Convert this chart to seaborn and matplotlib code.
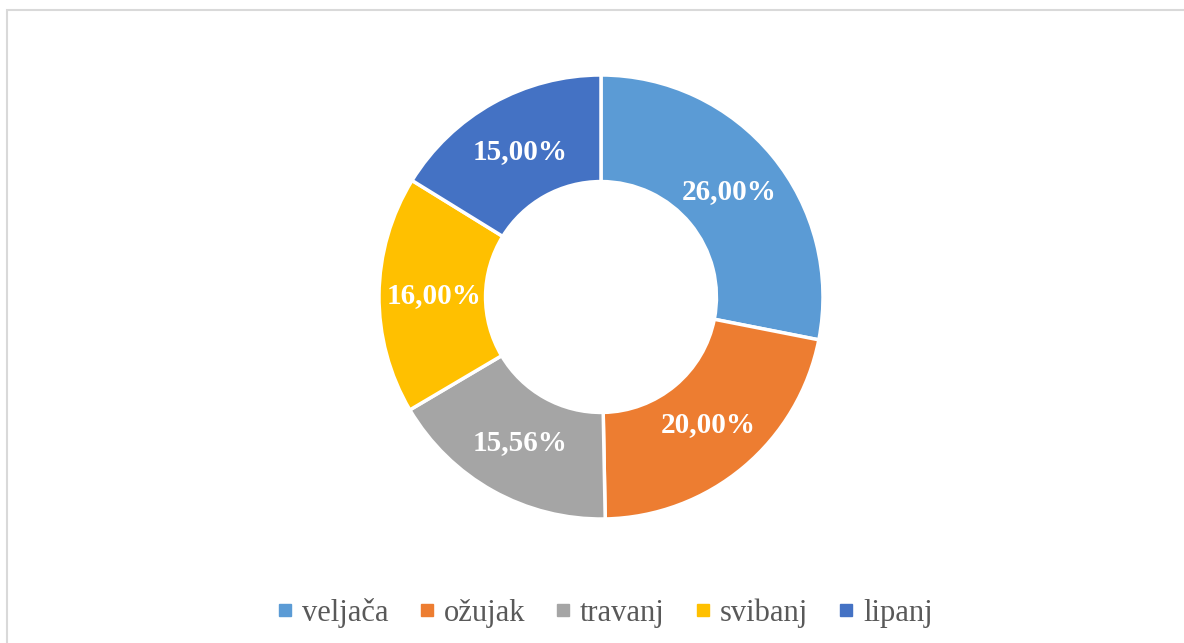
import matplotlib
matplotlib.use('Agg')

import numpy as np
import seaborn as sns
from matplotlib import pyplot as plt
from matplotlib.patches import Rectangle
from matplotlib.lines import Line2D

months = ['veljača', 'ožujak', 'travanj', 'svibanj', 'lipanj']
values = [26.00, 20.00, 15.56, 16.00, 15.00]
value_labels = ['26,00%', '20,00%', '15,56%', '16,00%', '15,00%']
colors = ['#5B9BD5', '#ED7D31', '#A5A5A5', '#FFC000', '#4472C4']

sns.set_theme(style='white')
plt.rcParams['font.family'] = ['Liberation Serif', 'DejaVu Serif']

W, H = 1184, 643
fig = plt.figure(figsize=(W / 100, H / 100), dpi=100)

# chart border (light gray frame, cut at right and bottom)
fig.patches.append(Rectangle((7 / W, -0.1), 1.2, 1 - 10 / H + 0.1, transform=fig.transFigure,
                             fill=False, edgecolor='#D9D9D9', linewidth=1.5))

cx, cy, r = 601, H - 297, 222
ax = fig.add_axes([(cx - r) / W, (cy - r) / H, 2 * r / W, 2 * r / H])
pal = sns.color_palette(colors)
wedges, texts = ax.pie(values, colors=pal, startangle=90, counterclock=False, radius=1,
                       wedgeprops=dict(width=0.48, edgecolor='white', linewidth=2.5),
                       labels=value_labels, labeldistance=0.75,
                       textprops=dict(color='white', fontsize=21, fontweight='bold'))
for t in texts:
    t.set_ha('center')
    t.set_va('center')
ax.set_xlim(-1.0, 1.0)
ax.set_ylim(-1.0, 1.0)
ax.axis('off')

handles = [Line2D([], [], marker='s', linestyle='', markersize=8, color=c) for c in colors]
fig.legend(handles, months, loc='center', bbox_to_anchor=(605 / W, 1 - 613 / H), ncol=5,
           frameon=False, fontsize=22, handlelength=0.5, handletextpad=0.3, columnspacing=1.0,
           labelcolor='#595959')

fig.savefig('out.png', dpi=100, facecolor='white')
